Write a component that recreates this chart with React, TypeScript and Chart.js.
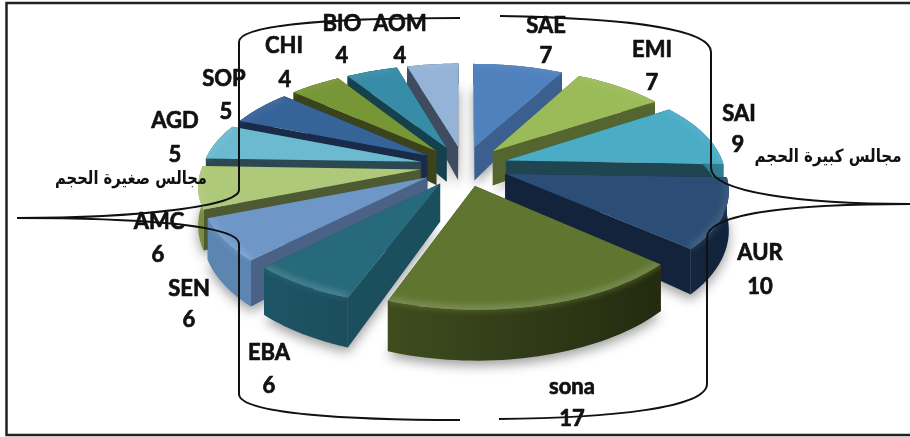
import React, { useEffect, useRef } from "react";
import Chart from "chart.js/auto";

// Number of council members per council, clockwise from twelve o'clock.
const councils = ["SAE", "EMI", "SAI", "AUR", "sona", "EBA", "SEN", "AMC", "AGD", "SOP", "CHI", "BIO", "AOM"];
const members = [7, 7, 9, 10, 17, 6, 6, 6, 5, 5, 4, 4, 4];

const topColors = ["#4F81BD", "#9BBB59", "#4BACC6", "#2C4D75", "#5F7530", "#276A7C", "#6E97C8", "#AFC97A", "#6BBAD0", "#366499", "#779636", "#378CA8", "#95B3D7"];
const radialColors = ["#3B5F8E", "#55652F", "#1F4650", "#13233B", "#2F3A15", "#1B4F5E", "#4A6285", "#4D5A32", "#2B4853", "#1A2B4A", "#3A431B", "#15414E", "#3F4B5E"];
const outerLeft = ["#3B5F8E", "#55652F", "#2F7D92", "#15263D", "#3F4C1E", "#1E5566", "#5C85B2", "#7A8F3E", "#2B4853", "#1A2B4A", "#3A431B", "#15414E", "#3F4B5E"];
const outerRight = ["#3B5F8E", "#55652F", "#2F7D92", "#10233C", "#232B10", "#1B4D5D", "#5C85B2", "#7A8F3E", "#2B4853", "#1A2B4A", "#3A431B", "#15414E", "#3F4B5E"];

const largeCouncilsTitle = "مجالس كبيرة الحجم";
const smallCouncilsTitle = "مجالس صغيرة الحجم";

// Where each name / value pair sits on the canvas.
const labelSpots: [number, number, number, number][] = [
  [546, 26, 546, 56], [652, 50, 652, 83], [739, 114, 738, 145], [760, 253, 760, 287],
  [572, 387, 572, 419], [269, 353, 269, 386], [189, 289, 189, 320], [159, 222, 158, 255],
  [175, 121, 175, 155], [224, 79, 226, 112], [284, 46, 285, 80], [342, 24, 342, 56], [400, 24, 400, 56],
];

// Perspective of the tilted disc.
const VIEW = { cx: 464, cy: 166, ry: 120, tilt: 0.17, depthMid: 36, depthFront: 15 };

type Pt = [number, number];

function makeProjector(unit: number) {
  return (ux: number, uy: number, z: number): Pt => {
    const v = uy / unit;
    const s = 1 / (1 - VIEW.tilt * v);
    const depth = VIEW.depthMid + VIEW.depthFront * v;
    return [VIEW.cx + ux * s, VIEW.cy + VIEW.ry * v * s + z * depth];
  };
}

function tracePolygon(ctx: CanvasRenderingContext2D, pts: Pt[]) {
  ctx.beginPath();
  pts.forEach((p, i) => (i ? ctx.lineTo(p[0], p[1]) : ctx.moveTo(p[0], p[1])));
  ctx.closePath();
}

function traceLine(ctx: CanvasRenderingContext2D, pts: Pt[]) {
  ctx.beginPath();
  pts.forEach((p, i) => (i ? ctx.lineTo(p[0], p[1]) : ctx.moveTo(p[0], p[1])));
}

// Extruded, exploded slices built from the angles the pie controller computed.
const discPlugin = {
  id: "tiltedDisc",
  beforeDatasetDraw(chart: any) {
    const ctx: CanvasRenderingContext2D = chart.ctx;
    const arcs: any[] = chart.getDatasetMeta(0).data;
    const shapes = arcs.map((arc, index) => {
      const r: number = arc.outerRadius;
      const explode: number = arc.options.offset / 4;
      const project = makeProjector(r + explode);
      const mid = (arc.startAngle + arc.endAngle) / 2;
      const mx = Math.cos(mid) * explode;
      const my = Math.sin(mid) * explode;
      const at = (a: number, rad: number, z: number) => project(mx + Math.cos(a) * rad, my + Math.sin(a) * rad, z);
      const steps = 40;
      const rim = (z: number) => {
        const out: Pt[] = [];
        for (let i = 0; i <= steps; i++) out.push(at(arc.startAngle + ((arc.endAngle - arc.startAngle) * i) / steps, r, z));
        return out;
      };
      return { index, arc, r, at, rim, order: Math.sin(mid) };
    });
    const painted = [...shapes].sort((a, b) => a.order - b.order);

    // Soft ground shadow under the whole disc.
    ctx.save();
    ctx.shadowColor = "rgba(0,0,0,0.38)";
    ctx.shadowBlur = 12;
    ctx.shadowOffsetX = 3000;
    ctx.shadowOffsetY = 5;
    ctx.fillStyle = "#000";
    shapes.forEach((s) => {
      const pts: Pt[] = [s.at(0, 0, 1), ...s.rim(1)].map((p) => [p[0] - 3000, p[1]] as Pt);
      tracePolygon(ctx, pts);
      ctx.fill();
    });
    ctx.restore();

    painted.forEach((s) => {
      const { index, arc, r, at, rim } = s;
      // Radial walls.
      ctx.fillStyle = radialColors[index];
      [arc.startAngle, arc.endAngle].forEach((a: number) => {
        tracePolygon(ctx, [at(a, 0, 0), at(a, r, 0), at(a, r, 1), at(a, 0, 1)]);
        ctx.fill();
      });
      // Curved outer wall with a lit upper edge.
      const upper = rim(0);
      const lower = rim(1);
      const xs = upper.map((p) => p[0]);
      const grad = ctx.createLinearGradient(Math.min(...xs), 0, Math.max(...xs), 0);
      grad.addColorStop(0, outerLeft[index]);
      grad.addColorStop(1, outerRight[index]);
      ctx.save();
      tracePolygon(ctx, [...upper, ...[...lower].reverse()]);
      ctx.fillStyle = grad;
      ctx.fill();
      ctx.clip();
      ctx.filter = "blur(2px)";
      traceLine(ctx, upper);
      ctx.strokeStyle = topColors[index];
      ctx.globalAlpha = 0.45;
      ctx.lineWidth = 6;
      ctx.stroke();
      ctx.restore();
      // Top face with a bevel that brightens toward the viewer.
      ctx.save();
      tracePolygon(ctx, [at(0, 0, 0), ...upper]);
      ctx.fillStyle = topColors[index];
      ctx.fill();
      ctx.clip();
      const sheen = ctx.createLinearGradient(0, VIEW.cy, 0, VIEW.cy + 140);
      sheen.addColorStop(0, "rgba(255,255,255,0.06)");
      sheen.addColorStop(1, "rgba(255,255,255,0.18)");
      ctx.filter = "blur(3px)";
      traceLine(ctx, upper);
      ctx.strokeStyle = sheen;
      ctx.lineWidth = 9;
      ctx.stroke();
      ctx.restore();
    });
    return false;
  },
};

function strokeBrace(ctx: CanvasRenderingContext2D, cmds: (c: CanvasRenderingContext2D) => void) {
  ctx.beginPath();
  cmds(ctx);
  ctx.stroke();
}

// Frame, grouping braces and every piece of text, painted over the disc.
const annotationPlugin = {
  id: "annotations",
  afterDatasetsDraw(chart: any) {
    const ctx: CanvasRenderingContext2D = chart.ctx;
    ctx.save();
    ctx.strokeStyle = "#222";
    ctx.lineWidth = 2.5;
    ctx.beginPath();
    ctx.moveTo(910, 3);
    ctx.lineTo(6.5, 3);
    ctx.lineTo(6.5, 435);
    ctx.lineTo(910, 435);
    ctx.stroke();

    ctx.strokeStyle = "#111";
    ctx.lineWidth = 2;
    strokeBrace(ctx, (c) => {
      c.moveTo(460, 18);
      c.bezierCurveTo(340, 18, 239, 24, 239, 42);
      c.lineTo(239, 190);
      c.bezierCurveTo(239, 206, 140, 218, 17, 218);
      c.bezierCurveTo(130, 218, 239, 224, 239, 244);
      c.lineTo(239, 394);
      c.bezierCurveTo(239, 414, 350, 420, 460, 420);
    });
    strokeBrace(ctx, (c) => {
      c.moveTo(500, 16);
      c.bezierCurveTo(620, 18, 711, 28, 711, 52);
      c.lineTo(711, 168);
      c.bezierCurveTo(711, 192, 800, 204, 910, 204);
      c.bezierCurveTo(800, 204, 707, 212, 707, 238);
      c.lineTo(707, 384);
      c.bezierCurveTo(707, 408, 610, 418, 499, 419);
    });

    ctx.fillStyle = "#111";
    ctx.strokeStyle = "#111";
    ctx.lineWidth = 0.7;
    ctx.lineJoin = "round";
    ctx.textAlign = "center";
    ctx.textBaseline = "middle";
    ctx.font = "bold 22px Lato";
    const boldText = (text: string, x: number, y: number) => {
      ctx.fillText(text, x, y);
      ctx.strokeText(text, x, y);
    };
    councils.forEach((name, i) => {
      const [nx, ny, vx, vy] = labelSpots[i];
      boldText(name, nx, ny);
      boldText(String(members[i]), vx, vy);
    });
    ctx.font = 'bold 18px "DejaVu Sans"';
    ctx.fillText(largeCouncilsTitle, 828, 157, 147);
    ctx.fillText(smallCouncilsTitle, 131, 179, 152);
    ctx.restore();
  },
};

export default function App() {
  const ref = useRef<HTMLCanvasElement>(null);
  useEffect(() => {
    const chart = new Chart(ref.current!, {
      type: "pie",
      data: {
        labels: councils,
        datasets: [{ data: members, backgroundColor: topColors, borderWidth: 0, offset: 176 }],
      },
      options: {
        animation: false,
        responsive: false,
        radius: 218,
        plugins: { legend: { display: false }, tooltip: { enabled: false } },
      } as any,
      plugins: [discPlugin, annotationPlugin],
    });
    return () => chart.destroy();
  }, []);
  return (
    <div style={{ position: "absolute", left: 0, top: 0, width: 910, height: 437, background: "#fff" }}>
      <canvas ref={ref} width={910} height={437} style={{ display: "block" }} />
    </div>
  );
}
